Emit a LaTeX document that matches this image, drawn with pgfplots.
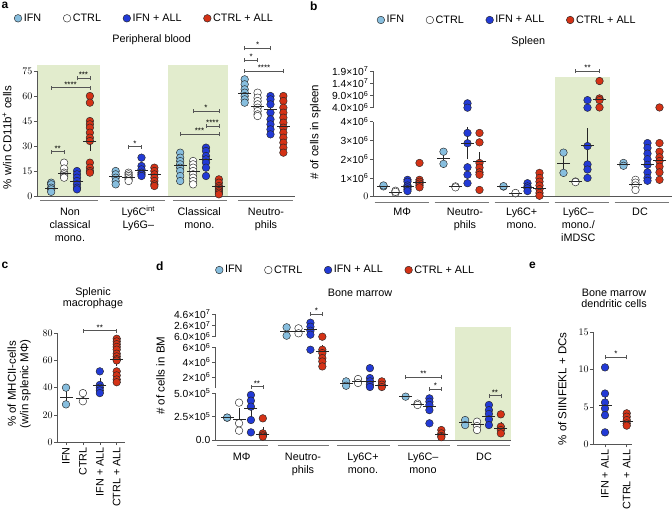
\documentclass[border=0pt]{standalone}
\usepackage{fontspec}
\setmainfont{Liberation Sans}
\usepackage{pgfplots}
\pgfplotsset{compat=1.18}
\definecolor{cIFN}{RGB}{135,190,222}
\definecolor{cALL}{RGB}{34,58,214}
\definecolor{cCA}{RGB}{212,50,22}
\definecolor{cgreen}{RGB}{226,236,205}
\definecolor{axc}{RGB}{85,85,85}
\definecolor{glc}{RGB}{120,120,120}
\newcommand{\lab}{\fontsize{10.8}{12.8}\selectfont}
\newcommand{\tck}{\fontsize{10.3}{12}\selectfont}
\newcommand{\ylab}{\fontsize{11.5}{13}\selectfont}
\newcommand{\tl}[3]{\node[font=\lab, anchor=base, inner sep=0pt] at (#1pt,-#2pt) {#3};}
\newcommand{\tn}[3]{\node[font=\tck, anchor=east, inner sep=0pt] at (#1pt,-#2pt) {#3};}
\newcommand{\glin}[3]{\draw[glc, line width=0.8pt] (#1pt,-#3pt) -- (#2pt,-#3pt);}
\newcommand{\brk}[4]{%
 \draw[axc, line width=0.5pt] (axis cs:#1,#3) -- (axis cs:#2,#3);
 \draw[axc, line width=0.5pt] ([yshift=-2pt]axis cs:#1,#3) -- ([yshift=2pt]axis cs:#1,#3);
 \draw[axc, line width=0.5pt] ([yshift=-2pt]axis cs:#2,#3) -- ([yshift=2pt]axis cs:#2,#3);
 \node[font=\fontsize{8}{8}\selectfont, anchor=base, inner sep=0pt] at ([yshift=0.5pt]axis cs:{(#1+#2)/2},#3) {#4};}
\pgfplotsset{
  pan/.style={scale only axis, clip=false, axis on top, anchor=south west,
    axis x line*=bottom, axis y line*=left,
    axis line style={-, line width=0.6pt, draw=axc},
    tick align=outside, major tick length=3pt,
    tick style={line width=0.6pt, draw=axc},
    xtick=\empty,
    yticklabel style={font=\tck, inner sep=1.5pt},
    xticklabel style={font=\lab}},
  pts/.style={only marks, mark=*, mark size=3.8pt, mark options={draw=black!85, line width=0.45pt, fill=#1}},
  mn/.style={only marks, mark=-, mark size=6.5pt, forget plot, black!85,
    mark options={draw=black!85, line width=0.7pt},
    error bars/y dir=both, error bars/y explicit,
    error bars/error bar style={black!85, line width=0.6pt},
    error bars/error mark options={draw=black!85, mark size=3pt, line width=0.6pt}},
  leg/.style={legend columns=4,
    legend style={draw=none, fill=none, at={#1}, anchor=west, font=\lab, inner sep=0pt,
      /tikz/every even column/.append style={column sep=20pt}},
    legend image code/.code={\draw[mark repeat=2,mark phase=2,##1] plot coordinates {(0pt,0pt) (4pt,0pt) (8pt,0pt)};}},
}
\begin{document}
\begin{tikzpicture}
\useasboundingbox (0,0) rectangle (672pt,-514pt);

% ================= panel a =================
\begin{axis}[pan, at={(37pt,-196pt)}, width=258pt, height=125pt,
  xmin=-2.6, xmax=17.4, ymin=0, ymax=75, ytick={0,15,30,45,60,75},
  yticklabels={},
  leg={(axis description cs:-0.089,1.4216)}]
\fill[cgreen] (axis cs:-2.6,0) rectangle (axis cs:2.29,78.6);
\fill[cgreen] (axis cs:7.56,0) rectangle (axis cs:12.2,78.6);
\addplot[pts=cIFN] coordinates {(-1.5,8) (-1.5,7) (-1.5,5) (-1.5,4) (-1.5,2.5)
 (3.5,15) (3.5,13) (3.5,11) (3.5,9) (3.5,7)
 (8.5,26) (8.5,23) (8.5,21) (8.5,19) (8.5,17) (8.5,15) (8.5,12) (8.5,9)
 (13.5,70) (13.5,67) (13.5,64) (13.5,62) (13.5,60) (13.5,58) (13.5,56)};
\addlegendentry{IFN}
\addplot[pts=white] coordinates {(-0.5,20) (-0.5,16.5) (-0.5,14) (-0.5,13) (-0.5,12) (-0.5,11)
 (4.5,14) (4.5,13) (4.5,12) (4.5,11) (4.5,10) (4.5,9)
 (9.5,21) (9.5,19) (9.5,17) (9.5,15) (9.5,13) (9.5,11) (9.5,9) (9.5,7)
 (14.5,62) (14.5,59) (14.5,57) (14.5,55) (14.5,53) (14.5,51) (14.5,49) (14.5,48)};
\addlegendentry{CTRL}
\addplot[pts=cALL] coordinates {(0.5,15) (0.5,13) (0.5,11) (0.5,9) (0.5,7) (0.5,5) (0.5,4)
 (5.5,23) (5.5,18) (5.5,16) (5.5,14) (5.5,13) (5.5,12)
 (10.5,29) (10.5,27) (10.5,24) (10.5,22) (10.5,20) (10.5,17) (10.5,12)
 (15.5,60) (15.5,58) (15.5,55) (15.5,50) (15.5,46) (15.5,43) (15.5,40) (15.5,37)};
\addlegendentry{IFN + ALL}
\addplot[pts=cCA] coordinates {(1.5,60) (1.5,56) (1.5,45) (1.5,43) (1.5,41) (1.5,38) (1.5,35) (1.5,33) (1.5,20) (1.5,17) (1.5,15) (1.5,14)
 (6.5,17) (6.5,15) (6.5,13) (6.5,11) (6.5,9) (6.5,7) (6.5,6)
 (11.5,10) (11.5,8) (11.5,6) (11.5,5) (11.5,4) (11.5,3) (11.5,2) (11.5,1)
 (16.5,60) (16.5,57) (16.5,53) (16.5,50) (16.5,47) (16.5,44) (16.5,41) (16.5,38) (16.5,35) (16.5,32) (16.5,29) (16.5,26)};
\addlegendentry{CTRL + ALL}
\addplot[mn] coordinates {(-1.5,4.8) +- (0,1) (-0.5,13.6) +- (0,1) (0.5,8.6) +- (0,1.5) (1.5,33) +- (0,4)
 (3.5,11.6) +- (0,1) (4.5,11) +- (0,0.7) (5.5,15.6) +- (0,1.5) (6.5,13) +- (0,1.5)
 (8.5,18.6) +- (0,2) (9.5,14.6) +- (0,1.8) (10.5,22) +- (0,2.2) (11.5,6) +- (0,1)
 (13.5,61.6) +- (0,1.5) (14.5,54) +- (0,1.5) (15.5,52) +- (0,3) (16.5,41.6) +- (0,3)};
\brk{-1.5}{-0.5}{26.6}{**}
\brk{-1.5}{1.5}{65}{****}
\brk{0.5}{1.5}{70.6}{***}
\brk{4.5}{5.5}{29.6}{*}
\brk{8.5}{11.5}{37}{***}
\brk{10.5}{11.5}{42}{****}
\brk{9.5}{11.5}{51}{*}
\brk{13.5}{15.5}{88.6}{*}
\brk{13.5}{14.5}{81.6}{*}
\brk{13.5}{16.5}{75}{****}
\end{axis}

% ================= panel b =================
\begin{axis}[pan, at={(373pt,-196.7pt)}, width=298.5pt, height=75pt,
  xmin=-2.375, xmax=22.5, ymin=0, ymax=4, ytick={0,1,2,3,4},
  yticklabels={{},1×10\textsuperscript{6},2×10\textsuperscript{6},3×10\textsuperscript{6},4×10\textsuperscript{6}},
  leg={(axis description cs:0.013,2.356)}]
\fill[cgreen] (axis cs:12.79,0) rectangle (axis cs:17.375,6.4);
\addplot[pts=cIFN] coordinates {(-1.5,0.55) (-1.5,0.6) (3.5,2.4) (3.5,1.75) (8.5,0.54) (8.5,0.56)
 (13.5,2.35) (13.5,1.27) (18.5,1.8) (18.5,1.65)};
\addlegendentry{IFN}
\addplot[pts=white] coordinates {(-0.5,0.32) (-0.5,0.2) (-0.5,0.26) (4.5,0.55) (4.5,0.5)
 (9.5,0.18) (9.5,0.2) (14.5,0.81) (14.5,0.78) (19.5,0.9) (19.5,0.75) (19.5,0.6) (19.5,0.36)};
\addlegendentry{CTRL}
\addplot[pts=cALL] coordinates {(0.5,0.9) (0.5,0.8) (0.5,0.6) (0.5,0.5) (0.5,0.4) (0.5,0.3)
 (5.5,3.4) (5.5,2.85) (5.5,1.57) (5.5,1.17) (5.5,0.72)
 (10.5,0.72) (10.5,0.55) (10.5,0.45) (10.5,0.3)
 (15.5,2.7) (15.5,1.72) (15.5,1.45) (15.5,1.0)
 (20.5,2.86) (20.5,2.6) (20.5,2.3) (20.5,2.0) (20.5,1.7) (20.5,1.3) (20.5,1.0) (20.5,0.85)};
\addlegendentry{IFN + ALL}
\addplot[pts=cCA] coordinates {(1.5,1.8) (1.5,0.9) (1.5,0.8) (1.5,0.7) (1.5,0.6) (1.5,0.5)
 (6.5,3.4) (6.5,2.9) (6.5,1.8) (6.5,1.55) (6.5,1.3) (6.5,1.17) (6.5,0.36)
 (11.5,1.27) (11.5,1.0) (11.5,0.8) (11.5,0.6) (11.5,0.4) (11.5,0.2) (11.5,0.05)
 (21.5,2.86) (21.5,2.4) (21.5,2.1) (21.5,1.9) (21.5,1.6) (21.5,1.3) (21.5,0.9)};
\addlegendentry{CTRL + ALL}
\addplot[mn] coordinates {(-1.5,0.57) +- (0,0.03) (-0.5,0.25) +- (0,0.04) (0.5,0.55) +- (0,0.1) (1.5,0.75) +- (0,0.2)
 (3.5,2.05) +- (0,0.35) (4.5,0.53) +- (0,0.03) (5.5,2.86) +- (0,0.7) (6.5,1.87) +- (0,0.35)
 (8.5,0.55) +- (0,0.02) (9.5,0.19) +- (0,0.02) (10.5,0.5) +- (0,0.08) (11.5,0.45) +- (0,0.17)
 (13.5,1.8) +- (0,0.55) (14.5,0.8) +- (0,0.02) (15.5,2.75) +- (0,0.75)
 (18.5,1.72) +- (0,0.08) (19.5,0.65) +- (0,0.12) (20.5,1.7) +- (0,0.3) (21.5,1.95) +- (0,0.3)};
\brk{14.5}{16.5}{6.7}{**}
\end{axis}
\begin{axis}[pan, at={(373pt,-107.7pt)}, width=298.5pt, height=36.7pt, axis x line=none,
  xmin=-2.375, xmax=22.5, ymin=4, ymax=19, ytick={4,9,14,19},
  yticklabels={4.0×10\textsuperscript{6},9.0×10\textsuperscript{6},1.4×10\textsuperscript{7},1.9×10\textsuperscript{7}}]
\addplot[pts=cALL] coordinates {(5.5,5.8) (5.5,4.0) (15.5,7.1) (15.5,4.0)};
\addplot[pts=cCA] coordinates {(16.5,14.9) (16.5,7.8) (16.5,7.1) (16.5,4.1) (21.5,4.1)};
\addplot[mn] coordinates {(16.5,7.55) +- (0,0.5)};
\end{axis}

% ================= panel c =================
\begin{axis}[pan, at={(57.3pt,-442pt)}, width=67.7pt, height=108.7pt,
  xmin=-0.515, xmax=3.49, ymin=0, ymax=80, ytick={0,20,40,60,80},
  yticklabels={{$0$},{$20$},{$40$},{$60$},{$80$}},
  xtick={0,1,2,3}, xticklabels={IFN,CTRL,IFN + ALL,CTRL + ALL},
  xticklabel style={rotate=90, anchor=east, font=\lab, inner sep=2pt}]
\addplot[pts=cIFN] coordinates {(0,40) (0,27.7)};
\addplot[pts=white] coordinates {(1,36) (1,30)};
\addplot[pts=cALL] coordinates {(2,52) (2,42) (2,40) (2,38) (2,36)};
\addplot[pts=cCA] coordinates {(3,76) (3,74) (3,72) (3,70) (3,68) (3,65) (3,63) (3,61) (3,60) (3,52) (3,49) (3,46) (3,44)};
\addplot[mn] coordinates {(0,33) +- (0,6) (1,32) +- (0,2.5) (2,41.6) +- (0,3) (3,61) +- (0,3)};
\brk{1}{3}{82}{**}
\end{axis}

% ================= panel d =================
\begin{axis}[pan, at={(215pt,-440pt)}, width=295.7pt, height=46.7pt,
  xmin=-2.52, xmax=22.33, ymin=0, ymax=5, ytick={0,2.5,5},
  yticklabels={0.0,2.5×10\textsuperscript{5},5.0×10\textsuperscript{5}},
  leg={(axis description cs:0.001,3.64)}]
\fill[cgreen] (axis cs:17.65,0) rectangle (axis cs:22.33,12.08);
\addplot[pts=cIFN] coordinates {(-1.5,2.39) (-1.5,2.4) (13.5,4.64) (18.5,2.14) (18.5,1.6)};
\addlegendentry{IFN}
\addplot[pts=white] coordinates {(-0.5,4.0) (-0.5,1.79) (-0.5,1.0) (14.5,3.9) (14.5,3.75) (19.5,1.96) (19.5,1.5) (19.5,1.07)};
\addlegendentry{CTRL}
\addplot[pts=cALL] coordinates {(0.5,4.82) (0.5,4.21) (0.5,3.57) (0.5,2.14) (0.5,0.82)
 (15.5,4.46) (15.5,4.1) (15.5,3.75) (15.5,3.2) (15.5,1.79)
 (20.5,3.75) (20.5,3.2) (20.5,2.79) (20.5,2.21) (20.5,1.6)};
\addlegendentry{IFN + ALL}
\addplot[pts=cCA] coordinates {(1.5,2.32) (1.5,0.71) (1.5,0.5) (1.5,0.36)
 (16.5,1.07) (16.5,0.71) (16.5,0.43) (16.5,0.3)
 (21.5,2.75) (21.5,1.43) (21.5,1.07) (21.5,0.71)};
\addlegendentry{CTRL + ALL}
\addplot[mn] coordinates {(-1.5,2.39) +- (0,0.02) (-0.5,2.21) +- (0,0.9) (0.5,3.39) +- (0,0.8) (1.5,0.64) +- (0,0.4)
 (13.5,4.64) +- (0,0.02) (14.5,3.82) +- (0,0.05) (15.5,3.64) +- (0,0.5) (16.5,0.6) +- (0,0.15)
 (18.5,1.86) +- (0,0.25) (19.5,1.68) +- (0,0.25) (20.5,2.57) +- (0,0.4) (21.5,1.25) +- (0,0.35)};
\brk{0.5}{1.5}{5.71}{**}
\brk{13.5}{16.5}{6.72}{**}
\brk{15.5}{16.5}{5.47}{*}
\brk{20.5}{21.5}{4.75}{**}
\end{axis}
\begin{axis}[pan, at={(215pt,-388.1pt)}, width=295.7pt, height=41.4pt, axis x line=none,
  xmin=-2.52, xmax=22.33, ymin=0.5, ymax=6.1, ytick={2,4,6},
  yticklabels={2×10\textsuperscript{6},4×10\textsuperscript{6},6×10\textsuperscript{6}}]
\addplot[pts=cIFN] coordinates {(8.5,1.41) (8.5,0.82)};
\addplot[pts=white] coordinates {(9.5,1.73) (9.5,1.19)};
\addplot[pts=cALL] coordinates {(5.5,5.69) (10.5,3.2) (10.5,1.86) (10.5,1.41) (10.5,0.96) (10.5,0.65)};
\addplot[pts=cCA] coordinates {(6.5,5.69) (6.5,5.24) (6.5,4.56) (6.5,4.1) (6.5,3.43) (11.5,1.41) (11.5,0.96) (11.5,0.65)};
\addplot[mn] coordinates {(6.5,5.5) +- (0,0.4) (8.5,1.09) +- (0,0.3) (9.5,1.4) +- (0,0.25) (10.5,1.41) +- (0,0.4) (11.5,0.87) +- (0,0.2)};
\end{axis}
\begin{axis}[pan, at={(215pt,-337.2pt)}, width=295.7pt, height=23.5pt, axis x line=none,
  xmin=-2.52, xmax=22.33, ymin=5, ymax=47, ytick={6,26,46},
  yticklabels={6.0×10\textsuperscript{6},2.6×10\textsuperscript{7},4.6×10\textsuperscript{7}}]
\addplot[pts=cIFN] coordinates {(3.5,22.7) (3.5,7.7)};
\addplot[pts=white] coordinates {(4.5,20.9) (4.5,12)};
\addplot[pts=cALL] coordinates {(5.5,30.9) (5.5,23.8) (5.5,16.6) (5.5,9.5)};
\addplot[pts=cCA] coordinates {(6.5,5.9)};
\addplot[mn] coordinates {(3.5,14.8) +- (0,2) (4.5,16) +- (0,2) (5.5,19.1) +- (0,3)};
\brk{5.5}{6.5}{46.4}{*}
\end{axis}

% ================= panel e =================
\begin{axis}[pan, at={(593.3pt,-444.3pt)}, width=38.4pt, height=112pt,
  xmin=-0.54, xmax=1.23, ymin=0, ymax=15, ytick={0,5,10,15},
  yticklabels={},
  xtick={0,1}, xticklabels={IFN + ALL,CTRL + ALL},
  xticklabel style={rotate=90, anchor=east, font=\lab, inner sep=2pt}]
\addplot[pts=cALL] coordinates {(0,10.3) (0,6.8) (0,5.6) (0,4.8) (0,3.9) (0,1.6)};
\addplot[pts=cCA] coordinates {(1,4.15) (1,3.7) (1,3.25) (1,2.8) (1,2.5)};
\addplot[mn] coordinates {(0,5.2) +- (0,1.1) (1,3.1) +- (0,0.25)};
\brk{0}{1}{11.65}{*}
\end{axis}

% ================= tick numbers placed beside the axes =================
\tn{32.5}{196}{$0$} \tn{32.5}{171}{$15$} \tn{32.5}{146}{$30$} \tn{32.5}{121}{$45$} \tn{32.5}{96}{$60$} \tn{32.5}{71}{$75$}
\tn{368.5}{196.7}{$0$}
\tn{588.8}{444.3}{$0$} \tn{588.8}{407}{$5$} \tn{588.8}{369.6}{$10$} \tn{588.8}{332.3}{$15$}

% ================= texts =================
\foreach \l/\x/\y in {a/1.5/1.5, b/310/1.5, c/1.5/262, d/156/262, e/529/262}
  \node[font=\bfseries\fontsize{12}{12}\selectfont, anchor=north west, inner sep=0pt] at (\x pt,-\y pt) {\l};
% titles
\tl{151.7}{42.5}{Peripheral blood}
\tl{528.3}{44.5}{Spleen}
\tl{93}{295.7}{Splenic}
\tl{93}{306.7}{macrophage}
\tl{360}{296}{Bone marrow}
\tl{614}{296}{Bone marrow}
\tl{614}{307.3}{dendritic cells}
% y labels
\node[font=\ylab, rotate=90] at (7pt,-137.5pt) {\% w/in CD11b\textsuperscript{+} cells};
\node[font=\ylab, rotate=90] at (315.5pt,-132pt) {\# of cells in spleen};
\node[font=\ylab, rotate=90] at (11.7pt,-384pt) {\% of MHCII-cells};
\node[font=\ylab, rotate=90] at (25.5pt,-384pt) {(w/in splenic MΦ)};
\node[font=\ylab, rotate=90] at (160.5pt,-375.7pt) {\# of cells in BM};
\node[font=\ylab, rotate=90] at (562.3pt,-389pt) {\% of SIINFEKL + DCs};
% group lines & labels a
\glin{40}{98}{200} \glin{110}{165}{200} \glin{173}{227}{200} \glin{238}{293}{200}
\tl{70}{215.5}{Non} \tl{70}{228.5}{classical} \tl{70}{241.5}{mono.}
\tl{138.3}{215.5}{Ly6C\textsuperscript{int}} \tl{138.3}{228.5}{Ly6G–}
\tl{199.3}{215.5}{Classical} \tl{199.3}{228.5}{mono.}
\tl{266}{215.5}{Neutro-} \tl{266}{228.5}{phils}
% group lines & labels b
\glin{374.5}{428.5}{202} \glin{434.5}{488.5}{202} \glin{494.5}{548.5}{202} \glin{554.5}{608.5}{202} \glin{614.5}{668.5}{202}
\tl{402.3}{215.5}{MΦ}
\tl{465}{215.5}{Neutro-} \tl{465}{228.5}{phils}
\tl{521.7}{215.5}{Ly6C+} \tl{521.7}{228.5}{mono.}
\tl{578.3}{215.5}{Ly6C–} \tl{578.3}{228.5}{mono./} \tl{578.3}{241.5}{iMDSC}
\tl{640}{215.5}{DC}
% group lines & labels d
\glin{216.7}{268}{445.7} \glin{277.7}{329}{445.7} \glin{337}{390}{445.7} \glin{397.7}{450}{445.7} \glin{457}{510}{445.7}
\tl{241.7}{460.5}{MΦ}
\tl{303}{460.5}{Neutro-} \tl{303}{473.5}{phils}
\tl{363}{460.5}{Ly6C+} \tl{363}{473.5}{mono.}
\tl{423}{460.5}{Ly6C–} \tl{423}{473.5}{mono}
\tl{484}{460.5}{DC}
\end{tikzpicture}
\end{document}
